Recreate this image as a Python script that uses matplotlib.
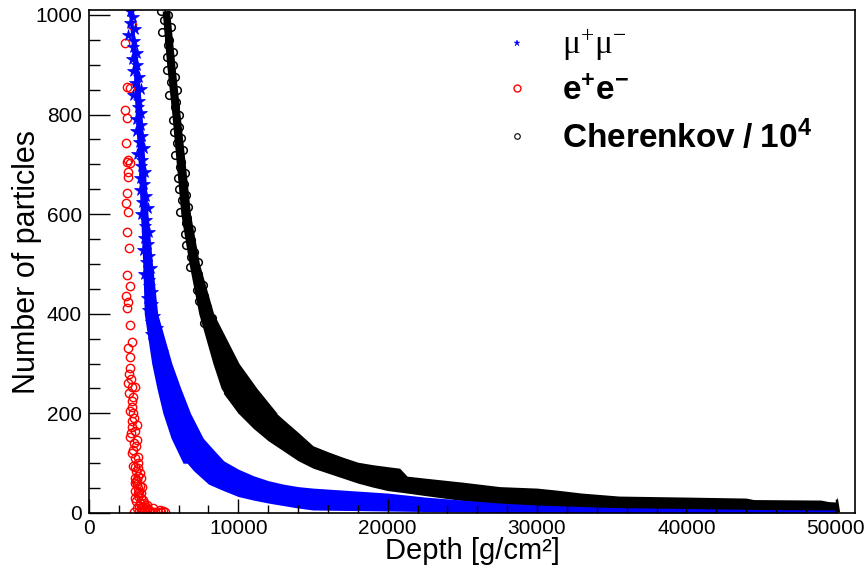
import matplotlib
matplotlib.use("Agg")
import matplotlib.pyplot as plt
from matplotlib.lines import Line2D
from matplotlib.ticker import MultipleLocator

plt.rcParams['font.family'] = ['Liberation Sans', 'DejaVu Sans']
plt.rcParams['mathtext.fontset'] = 'custom'
plt.rcParams['mathtext.rm'] = 'Liberation Serif'
plt.rcParams['mathtext.it'] = 'Liberation Serif:italic'
plt.rcParams['mathtext.bf'] = 'Liberation Sans:bold'

# ---------------- data ----------------
# Cherenkov / 1e4 : individual points on the steep part
cher_x = [4800, 5280, 5010, 5470, 4910, 5360, 5300, 5610, 5200, 5600,
          5230, 5730, 5470, 5920, 5360, 5810, 5750, 6050, 5630, 6030,
          5660, 6150, 5880, 6320, 5750, 6190, 6110, 6400, 5980, 6370,
          6000, 6490, 6220, 6650, 6090, 6550, 6510, 6830, 6440, 6860,
          6520, 7050, 6810, 7280, 6750, 7270, 7250, 7600, 7240, 7690,
          7380, 7930, 7720, 8220, 7730, 8270, 8300, 8700, 8380, 8900,
          8650, 9300]
cher_y = [1008, 1000, 990, 975, 965, 950, 940, 925, 915, 900,
          890, 875, 865, 850, 840, 825, 815, 800, 790, 775,
          765, 752, 742, 728, 718, 705, 695, 682, 672, 660,
          650, 638, 628, 615, 605, 592, 582, 570, 560, 548,
          538, 525, 515, 503, 493, 480, 470, 458, 448, 436,
          426, 414, 404, 392, 382, 370, 360, 348, 338, 326,
          316, 304]
# Cherenkov dense band, steep part (depth range at given particle number)
cher_band_y = [1008, 900, 800, 700, 600, 500, 400, 300, 250, 200]
cher_band_xlo = [4900, 5200, 5550, 5850, 6150, 6700, 7350, 8300, 8850, 10000]
cher_band_xhi = [5400, 5750, 6100, 6450, 6800, 7400, 8350, 10050, 11250, 12600]
# Cherenkov dense band, flat part (particle number range at given depth)
cher_tail_x = [9000, 10000, 11000, 12000, 13000, 14000, 15000, 16000, 17000,
               18000, 19000, 20000, 20800, 21300, 22500, 25000, 27500, 30000,
               31300, 33000, 35500, 40000, 44000, 44500, 49000, 49500, 50000,
               50100, 50250]
cher_tail_lo = [240, 200, 170, 145, 125, 105, 90, 80, 70,
                60, 52, 45, 42, 40, 35, 25, 18, 12,
                10, 8, 6, 5, 4, 4, 3, 3, 2,
                2, 2]
cher_tail_hi = [335, 300, 255, 215, 188, 162, 135, 123, 112,
                102, 97, 93, 90, 74, 70, 62, 53, 50,
                46, 40, 34, 32, 30, 27, 26, 23, 22,
                32, 5]

# mu+ mu- : individual points on the steep part
mu_x = [2750, 2930, 2720, 3100, 2610, 2990, 2960, 3220, 2900, 3220,
        2920, 3330, 3090, 3450, 2970, 3320, 3270, 3510, 3170, 3460,
        3160, 3570, 3330, 3690, 3210, 3560, 3510, 3750, 3410, 3700,
        3400, 3810, 3570, 3930, 3450, 3800, 3750, 3990, 3650, 3940,
        3640, 4050, 3810, 4170, 3690, 4040, 3990, 4240, 3900, 4210,
        3920, 4350, 4160, 4560, 4130, 4540, 4560, 4880, 4600, 4970]
mu_y = [1008, 996, 984, 972, 960, 948, 936, 924, 912, 900,
        888, 876, 864, 852, 840, 828, 816, 804, 792, 780,
        768, 756, 744, 732, 720, 708, 696, 684, 672, 660,
        648, 636, 624, 612, 600, 588, 576, 564, 552, 540,
        528, 516, 504, 492, 480, 468, 456, 444, 432, 420,
        408, 396, 384, 372, 360, 348, 336, 324, 312, 300]
mu_band_y = [1008, 900, 800, 700, 600, 500, 400, 300, 250, 200, 150, 100]
mu_band_xlo = [2650, 2950, 3100, 3300, 3450, 3600, 3700, 4200, 4550, 4950, 5500, 6300]
mu_band_xhi = [2850, 3300, 3550, 3750, 3950, 4250, 4600, 5550, 6150, 6800, 7650, 9150]
mu_tail_x = [6000, 7000, 8000, 9000, 10000, 11000, 12000, 13000, 14000, 15000,
             17500, 20000, 22500, 25000, 27500, 30000, 35000, 40000, 45000,
             50000, 50100]
mu_tail_lo = [120, 85, 58, 45, 33, 26, 20, 15, 10, 6,
              5, 4, 3, 2, 1, 1, 0.5, 0, 0,
              0, 0]
mu_tail_hi = [250, 175, 135, 105, 88, 75, 65, 58, 53, 50,
              45, 40, 32, 26, 20, 16, 11, 9, 7,
              6, 4]

# e+ e-
ee_x = [2880, 2410, 2545, 2745, 2410, 2545, 2478, 2611, 2545, 2745,
        2611, 2611, 2545, 2478, 2611, 2545, 2678, 2545, 2745, 2478,
        2611, 2545, 2745, 2879, 2611, 2745, 2745, 2611, 2879, 3080,
        2946, 2879, 2946, 3214, 2879, 2745, 3214, 2946, 3281, 3080,
        3415, 3214, 3549, 3281, 3616, 3884, 4285, 4754, 4955,
        2650, 2800, 2700, 2900, 2750, 3000, 2850, 3100, 2800, 3000,
        3150, 2900, 3100, 3250, 2950, 3150, 3300, 3050, 3200, 3400,
        3100, 3300, 3500, 3150, 3400, 3600, 3200, 3350, 3700, 3900,
        4100, 3500, 4400, 5100, 4800, 3000, 3050, 3250, 3450, 3650,
        3350, 3550, 3800, 4000, 4600, 3250, 3450, 3150, 3350, 3050]
ee_y = [980, 944, 855, 853, 809, 793, 743, 709, 705, 703,
        685, 675, 643, 622, 604, 564, 532, 478, 456, 436,
        424, 412, 377, 343, 331, 313, 291, 261, 253, 253,
        233, 213, 201, 177, 173, 153, 147, 127, 112, 92,
        80, 66, 52, 40, 26, 16, 10, 6, 4,
        280, 270, 240, 225, 205, 190, 185, 165, 160, 140,
        135, 120, 110, 100, 95, 85, 75, 70, 58, 55,
        45, 35, 40, 25, 20, 12, 10, 5, 5, 8,
        4, 2, 2, 3, 2, 2, 60, 50, 30, 20,
        15, 10, 12, 6, 3, 90, 70, 65, 42, 30]

labels = [r'$\mathrm{\mu^{+}\mu^{-}}$', r'$\mathbf{e^{+}e^{-}}$',
          r'$\mathbf{Cherenkov\ /\ 10^{4}}$']
x_label = 'Depth [g/cm²]'
y_label = 'Number of particles'

# ---------------- figure ----------------
fig = plt.figure(figsize=(8.64, 5.69), dpi=100)
ax = fig.add_axes([89 / 864, 56 / 569, 766 / 864, 503 / 569])

BLUE = '#0000ff'
RED = '#ff0000'
BLACK = '#000000'

# Cherenkov
ax.fill_betweenx(cher_band_y, cher_band_xlo, cher_band_xhi, color=BLACK, lw=0)
ax.fill_between(cher_tail_x, cher_tail_lo, cher_tail_hi, color=BLACK, lw=0)
ax.plot(cher_x, cher_y, ls='', marker='o', ms=5.5, mfc='none', mec=BLACK, mew=1.1)

# e+e-
ax.plot(ee_x, ee_y, ls='', marker='o', ms=6, mfc='none', mec=RED, mew=1.0)

# mu+mu-
ax.fill_betweenx(mu_band_y, mu_band_xlo, mu_band_xhi, color=BLUE, lw=0)
ax.fill_between(mu_tail_x, mu_tail_lo, mu_tail_hi, color=BLUE, lw=0)
ax.plot(mu_x, mu_y, ls='', marker='*', ms=8.5, color=BLUE, mew=0.5)

ax.set_xlim(0, 51290)
ax.set_ylim(0, 1010)

ax.xaxis.set_major_locator(MultipleLocator(10000))
ax.xaxis.set_minor_locator(MultipleLocator(2000))
ax.yaxis.set_major_locator(MultipleLocator(200))
ax.yaxis.set_minor_locator(MultipleLocator(50))
ax.tick_params(axis='x', which='major', direction='in', length=10, width=1,
               labelsize=15, pad=4)
ax.tick_params(axis='x', which='minor', direction='in', length=5.5, width=1)
ax.tick_params(axis='y', which='major', direction='in', length=15, width=1,
               labelsize=15, pad=5)
ax.tick_params(axis='y', which='minor', direction='in', length=8, width=1)
for s in ax.spines.values():
    s.set_linewidth(1.2)

ax.set_xlabel(x_label, fontsize=21)
ax.set_ylabel(y_label, fontsize=22)
ax.xaxis.set_label_coords(0.5, -0.047)
ax.yaxis.set_label_coords(-0.062, 0.5)

handles = [
    Line2D([], [], ls='', marker='*', ms=5, color=BLUE, mew=0.3),
    Line2D([], [], ls='', marker='o', ms=5, mfc='none', mec=RED, mew=1.0),
    Line2D([], [], ls='', marker='o', ms=4, mfc='none', mec=BLACK, mew=0.8),
]
leg = fig.legend(handles, labels, loc='upper left',
                 bbox_to_anchor=(500 / 864, 1 - 27 / 569),
                 frameon=False, fontsize=24, handlelength=1.0,
                 handletextpad=0.85, labelspacing=0.38, borderpad=0,
                 borderaxespad=0)

fig.savefig('out.png', dpi=100)
